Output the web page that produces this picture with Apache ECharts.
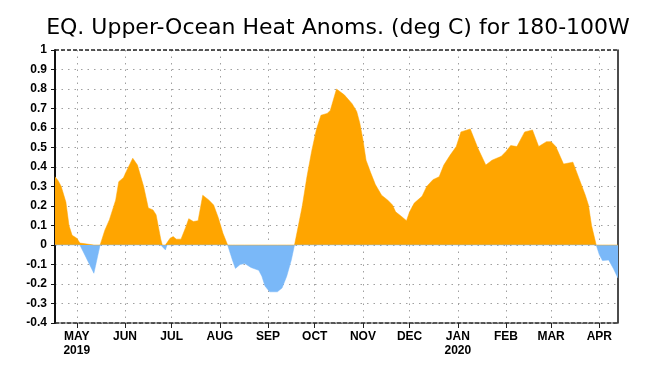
<!DOCTYPE html>
<html>
<head>
<meta charset="utf-8">
<script src="https://cdn.jsdelivr.net/npm/echarts@6.0.0/dist/echarts.min.js"></script>
<style>
  html, body { margin: 0; padding: 0; background: #fff; }
  #main { width: 660px; height: 376px; }
</style>
</head>
<body>
<div id="main"></div>
<script>
// pentad-ish dates
var dates = [
    '2019-04-17', '2019-04-19', '2019-04-21', '2019-04-24', '2019-04-26', '2019-04-28',
    '2019-05-01', '2019-05-03', '2019-05-04', '2019-05-12', '2019-05-16', '2019-05-17',
    '2019-05-19', '2019-05-22', '2019-05-26', '2019-05-28', '2019-05-31', '2019-06-02',
    '2019-06-06', '2019-06-09', '2019-06-10', '2019-06-13', '2019-06-16', '2019-06-19',
    '2019-06-21', '2019-06-24', '2019-06-25', '2019-06-27', '2019-06-28', '2019-06-30',
    '2019-07-02', '2019-07-04', '2019-07-07', '2019-07-10', '2019-07-12', '2019-07-15',
    '2019-07-18', '2019-07-21', '2019-07-25', '2019-07-28', '2019-07-31', '2019-08-03',
    '2019-08-06', '2019-08-07', '2019-08-09', '2019-08-11', '2019-08-14', '2019-08-17',
    '2019-08-21', '2019-08-26', '2019-08-28', '2019-08-30', '2019-09-02', '2019-09-07',
    '2019-09-10', '2019-09-13', '2019-09-16', '2019-09-18', '2019-09-23', '2019-09-26',
    '2019-09-29', '2019-10-02', '2019-10-05', '2019-10-09', '2019-10-11', '2019-10-15',
    '2019-10-20', '2019-10-25', '2019-10-28', '2019-10-30', '2019-11-01', '2019-11-03',
    '2019-11-06', '2019-11-09', '2019-11-13', '2019-11-17', '2019-11-20', '2019-11-22',
    '2019-11-26', '2019-11-29', '2019-12-01', '2019-12-04', '2019-12-09', '2019-12-12',
    '2019-12-16', '2019-12-20', '2019-12-23', '2019-12-27', '2019-12-31', '2020-01-03',
    '2020-01-09', '2020-01-11', '2020-01-14', '2020-01-19', '2020-01-23', '2020-01-29',
    '2020-02-01', '2020-02-04', '2020-02-08', '2020-02-13', '2020-02-18', '2020-02-22',
    '2020-02-27', '2020-03-01', '2020-03-04', '2020-03-09', '2020-03-15', '2020-03-19',
    '2020-03-23', '2020-03-25', '2020-03-27', '2020-03-30', '2020-04-01', '2020-04-03',
    '2020-04-07', '2020-04-10', '2020-04-13'
];
var anoms = [
    0.35, 0.33, 0.30, 0.22, 0.10, 0.05,
    0.035, 0.01, 0.00, -0.145, 0.00, 0.025,
    0.075, 0.13, 0.23, 0.325, 0.345, 0.38,
    0.445, 0.41, 0.40, 0.30, 0.19, 0.18,
    0.155, 0.03, 0.00, -0.025, 0.00, 0.035,
    0.043, 0.03, 0.03, 0.09, 0.135, 0.12,
    0.125, 0.255, 0.23, 0.205, 0.14, 0.06,
    0.00, -0.01, -0.075, -0.12, -0.10, -0.095,
    -0.115, -0.13, -0.16, -0.21, -0.24, -0.24,
    -0.22, -0.16, -0.075, 0.00, 0.20, 0.35,
    0.48, 0.59, 0.665, 0.675, 0.69, 0.80,
    0.77, 0.725, 0.685, 0.625, 0.54, 0.435,
    0.37, 0.31, 0.255, 0.23, 0.205, 0.17,
    0.145, 0.125, 0.17, 0.215, 0.25, 0.30,
    0.335, 0.35, 0.41, 0.46, 0.505, 0.58,
    0.595, 0.555, 0.495, 0.41, 0.435, 0.455,
    0.48, 0.51, 0.505, 0.58, 0.59, 0.505,
    0.53, 0.53, 0.505, 0.415, 0.425, 0.34,
    0.255, 0.205, 0.10, 0.00, -0.05, -0.08,
    -0.077, -0.12, -0.17
];
var monthTicks = [
    '2019-05-01', '2019-06-01', '2019-07-01', '2019-08-01', '2019-09-01', '2019-10-01',
    '2019-11-01', '2019-12-01', '2020-01-01', '2020-02-01', '2020-03-01', '2020-04-01'
];
var monthLabels = [
    'MAY\n2019', 'JUN', 'JUL', 'AUG', 'SEP', 'OCT',
    'NOV', 'DEC', 'JAN\n2020', 'FEB', 'MAR', 'APR'
];

var chart = echarts.init(document.getElementById('main'));

// x axis is a plain value axis in epoch ms so month ticks can be placed exactly
var toMs = function (d) { return Date.parse(d + 'T00:00:00Z'); };
var warm = dates.map(function (d, i) { return [toMs(d), Math.max(anoms[i], 0)]; });
var cold = dates.map(function (d, i) { return [toMs(d), Math.min(anoms[i], 0)]; });
var tickTimes = monthTicks.map(toMs);
var xMin = toMs('2019-04-17');
var xMax = toMs('2020-04-13');

var gridDots = { color: '#a0a0a0', width: 1, type: [1.5, 5] };
var labelFont = { color: '#000', fontFamily: 'Liberation Sans', fontSize: 12, fontWeight: 'bold' };

option = {
    backgroundColor: '#fff',
    animation: false,
    title: {
        text: 'EQ. Upper-Ocean Heat Anoms. (deg C) for 180-100W',
        left: 333,
        top: 12,
        textAlign: 'center',
        textStyle: {
            fontFamily: 'DejaVu Sans',
            fontSize: 22,
            fontWeight: 'normal',
            color: '#000'
        }
    },
    grid: {
        left: 55,
        right: 42,
        top: 50,
        bottom: 53
    },
    xAxis: {
        type: 'value',
        min: xMin,
        max: xMax,
        axisLine: { show: true, onZero: false, lineStyle: { color: '#222', width: 1.5, type: [4, 2] } },
        axisTick: {
            show: true,
            length: 5,
            customValues: tickTimes,
            lineStyle: { color: '#222', width: 1 }
        },
        axisLabel: Object.assign({
            customValues: tickTimes,
            lineHeight: 14,
            margin: 7,
            formatter: function (value) {
                for (var i = 0; i < tickTimes.length; i++) {
                    if (Math.abs(tickTimes[i] - value) < 43200000) return monthLabels[i];
                }
                return '';
            }
        }, labelFont),
        splitLine: { show: true, lineStyle: gridDots }
    },
    yAxis: [{
        type: 'value',
        min: -0.4,
        max: 1,
        interval: 0.1,
        axisLine: { show: true, lineStyle: { color: '#111', width: 2 } },
        axisTick: { show: true, length: 4, lineStyle: { color: '#111' } },
        axisLabel: Object.assign({ margin: 8 }, labelFont),
        splitLine: { show: true, lineStyle: gridDots }
    }, {
        type: 'value',
        min: -0.4,
        max: 1,
        interval: 0.1,
        position: 'right',
        axisLine: { show: true, lineStyle: { color: '#111', width: 1.5 } },
        axisTick: { show: false },
        axisLabel: { show: false },
        splitLine: { show: false }
    }],
    series: [{
        name: 'warm',
        type: 'line',
        data: warm,
        showSymbol: false,
        lineStyle: { width: 0.5, color: '#ffa500' },
        areaStyle: { color: '#ffa500', opacity: 1 },
        markLine: {
            silent: true,
            symbol: 'none',
            label: { show: false },
            lineStyle: { color: '#222', width: 1.5, type: [4, 2] },
            data: [{ yAxis: 1 }]
        },
        z: 2
    }, {
        name: 'cold',
        type: 'line',
        data: cold,
        showSymbol: false,
        lineStyle: { width: 0.5, color: '#7ab8f8' },
        areaStyle: { color: '#7ab8f8', opacity: 1 },
        z: 2
    }]
};

chart.setOption(option);
</script>
</body>
</html>
